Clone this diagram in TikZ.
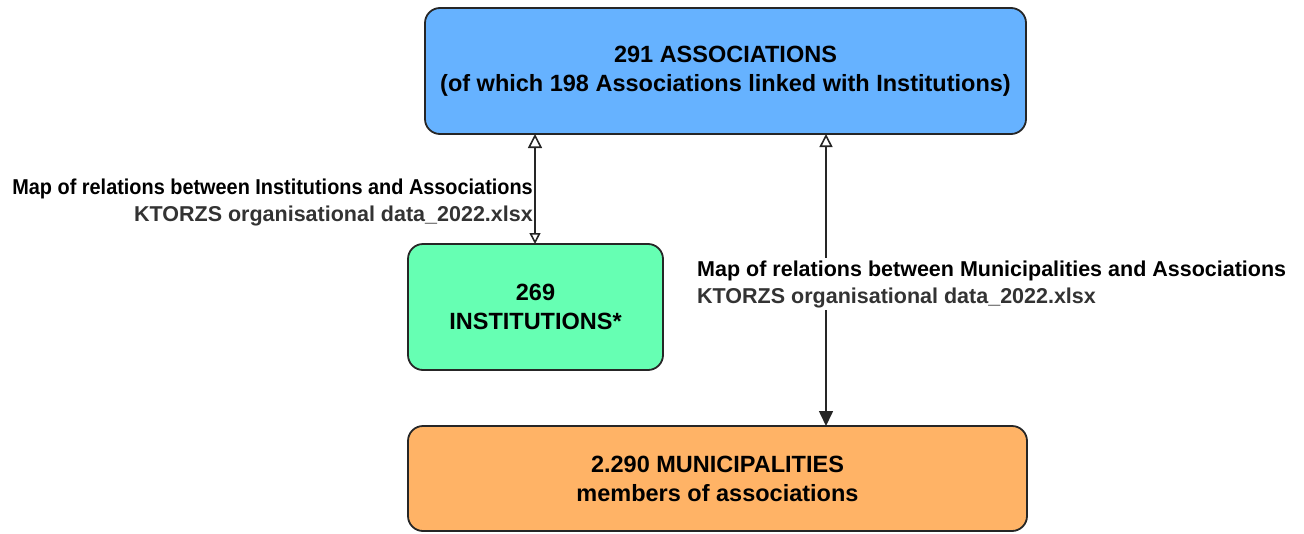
\documentclass[tikz,border=0pt]{standalone}
\usepackage{fontspec}
\setmainfont{Liberation Sans}
\usetikzlibrary{arrows.meta}
\definecolor{boxblue}{HTML}{66B2FF}
\definecolor{boxgreen}{HTML}{66FFB3}
\definecolor{boxorange}{HTML}{FFB366}
\definecolor{labgray}{HTML}{333333}
\begin{document}
\begin{tikzpicture}[x=1pt,y=-1pt,
  box/.style={draw=black!85, line width=1.8pt, rounded corners=15pt, align=center,
    font=\fontsize{23.5}{29}\selectfont\bfseries, inner sep=0pt},
  conn/.style={line width=1.6pt, black!85},
  lab/.style={font=\fontsize{21.5}{27}\selectfont\bfseries, inner sep=2pt}]
\useasboundingbox (0,0) rectangle (1304,533);
\node[box, fill=boxblue, minimum width=601pt, minimum height=126pt] (assoc) at (725.5,71)
  {291 ASSOCIATIONS\\(of which 198 Associations linked with Institutions)};
\node[box, fill=boxgreen, minimum width=255pt, minimum height=126pt] (inst) at (535.5,307)
  {269\\INSTITUTIONS*};
\node[box, fill=boxorange, minimum width=619pt, minimum height=105pt] (muni) at (717.5,478.5)
  {2.290 MUNICIPALITIES\\members of associations};
\coordinate (a1) at (535,134);
\coordinate (i1) at (535,244);
\coordinate (a2) at (826,134);
\coordinate (m2) at (826,426);
\draw[conn, {Triangle[open,length=14pt,width=14pt]}-{Triangle[open,length=11pt,width=11pt]}] (a1) -- (i1);
\draw[conn, {Triangle[open,length=13pt,width=13pt]}-{Triangle[length=15pt,width=14pt]}] (a2) -- (m2);
\node[lab, anchor=east, align=right] (lab1) at (535,202)
  {\scalebox{0.925}[1]{Map of relations between Institutions and Associations}\\\textcolor{labgray}{KTORZS organisational data\_2022.xlsx}};
\node[lab, anchor=west, align=left, fill=white] (lab2) at (695,284)
  {Map of relations between Municipalities and Associations\\\textcolor{labgray}{KTORZS organisational data\_2022.xlsx}};
\end{tikzpicture}
\end{document}
